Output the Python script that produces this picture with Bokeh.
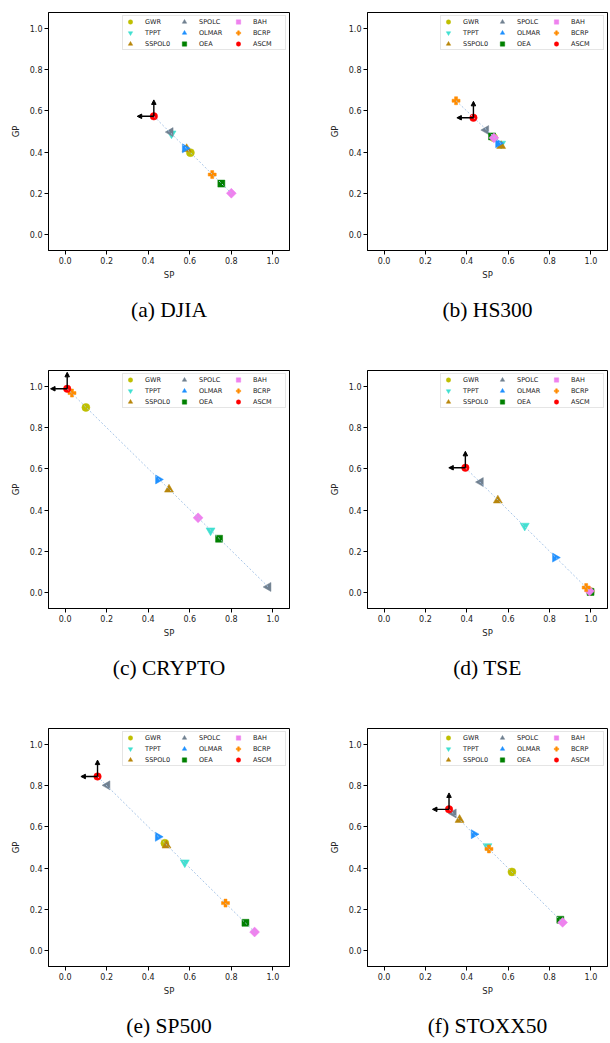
import math
from bokeh.plotting import figure
from bokeh.models import Range1d, Arrow, NormalHead, Title, FixedTicker
from bokeh.layouts import column, row
from bokeh.embed import file_html
from bokeh.resources import INLINE

# ---------------- data ----------------
METHODS = ["GWR", "TPPT", "SSPOL0", "SPOLC", "OLMAR", "OEA", "BAH", "BCRP", "ASCM"]

DJIA_SP = [0.603, 0.512, 0.585, 0.507, 0.577, 0.752, 0.800, 0.708, 0.427]
DJIA_GP = [0.397, 0.490, 0.415, 0.497, 0.418, 0.246, 0.199, 0.290, 0.574]

HS300_SP = [0.530, 0.566, 0.566, 0.493, 0.552, 0.522, 0.531, 0.348, 0.432]
HS300_GP = [0.470, 0.440, 0.430, 0.507, 0.443, 0.476, 0.469, 0.650, 0.567]

CRYPTO_SP = [0.100, 0.700, 0.500, 0.978, 0.448, 0.741, 0.640, 0.033, 0.010]
CRYPTO_GP = [0.900, 0.300, 0.500, 0.025, 0.549, 0.260, 0.362, 0.970, 0.991]

TSE_SP = [0.997, 0.680, 0.550, 0.467, 0.827, 0.998, 0.993, 0.977, 0.393]
TSE_GP = [0.003, 0.323, 0.447, 0.536, 0.168, 0.001, 0.005, 0.022, 0.606]

SP500_SP = [0.480, 0.576, 0.488, 0.203, 0.447, 0.868, 0.912, 0.772, 0.156]
SP500_GP = [0.521, 0.427, 0.510, 0.803, 0.552, 0.133, 0.088, 0.229, 0.846]

STOXX50_SP = [0.618, 0.500, 0.365, 0.336, 0.434, 0.852, 0.863, 0.507, 0.314]
STOXX50_GP = [0.381, 0.506, 0.635, 0.666, 0.565, 0.148, 0.135, 0.493, 0.686]

CAPTIONS = ["(a) DJIA", "(b) HS300", "(c) CRYPTO", "(d) TSE", "(e) SP500", "(f) STOXX50"]
TICKS = [0.0, 0.2, 0.4, 0.6, 0.8, 1.0]
TICK_LABELS = ["0.0", "0.2", "0.4", "0.6", "0.8", "1.0"]
X_LABEL = "SP"
Y_LABEL = "GP"
AXIS_LIMITS = (-0.08, 1.08)
ARROW_LEN = 0.08

# ---------------- styles ----------------
STYLE = {
    "GWR":    dict(marker="circle", color="#bfbf00", size=8, angle=0.0),
    "TPPT":   dict(marker="inverted_triangle", color="#40e0d0", size=9, angle=0.0),
    "SSPOL0": dict(marker="triangle", color="#b8860b", size=9, angle=0.0),
    "SPOLC":  dict(marker="triangle", color="#708090", size=9, angle=math.pi / 2),
    "OLMAR":  dict(marker="triangle", color="#1e90ff", size=9, angle=-math.pi / 2),
    "OEA":    dict(marker="square", color="#008000", size=7, angle=0.0),
    "BAH":    dict(marker="square", color="#ee82ee", size=7, angle=math.pi / 4),
    "BCRP":   dict(marker="plus", color="#ff8c00", size=8, angle=0.0),
    "ASCM":   dict(marker="circle", color="#ff0000", size=7.5, angle=0.0),
}
FONT = "DejaVu Sans"


def make_panel(sp, gp, caption, left, bottom_border):
    p = figure(
        frame_width=241 if left else 240, frame_height=238,
        min_border_left=48 if left else 62, min_border_right=16 if left else 3,
        min_border_top=12, min_border_bottom=bottom_border,
        x_range=Range1d(*AXIS_LIMITS), y_range=Range1d(*AXIS_LIMITS),
        output_backend="svg", toolbar_location=None,
        background_fill_color="white", border_fill_color="white",
    )
    p.grid.visible = False
    p.outline_line_color = "black"
    p.outline_line_alpha = 1.0
    p.outline_line_width = 1
    for ax in (p.xaxis[0], p.yaxis[0]):
        ax.ticker = FixedTicker(ticks=TICKS)
        ax.major_label_overrides = {t: l for t, l in zip(TICKS, TICK_LABELS)}
        ax.major_tick_out = 4
        ax.major_tick_in = 0
        ax.minor_tick_out = 0
        ax.minor_tick_in = 0
        ax.axis_line_color = "black"
        ax.major_tick_line_color = "black"
        ax.major_label_text_font = FONT
        ax.major_label_text_font_size = "8px"
        ax.major_label_text_color = "#222222"
        ax.axis_label_text_font = FONT
        ax.axis_label_text_font_size = "8.5px"
        ax.axis_label_text_font_style = "normal"
        ax.axis_label_text_color = "#222222"
        ax.major_label_standoff = 2
    p.xaxis.axis_label = X_LABEL
    p.yaxis.axis_label = Y_LABEL
    p.xaxis.axis_label_standoff = 3
    p.yaxis.axis_label_standoff = 6

    for i, m in enumerate(METHODS):
        st = STYLE[m]
        p.scatter([sp[i]], [gp[i]], marker=st["marker"], size=st["size"],
                  angle=st["angle"], fill_color=st["color"], line_color=st["color"],
                  line_width=0.5, legend_label=m)

    # dashed guide between the extreme points
    i_min = min(range(len(sp)), key=lambda k: sp[k])
    i_max = max(range(len(sp)), key=lambda k: sp[k])
    p.line([sp[i_min], sp[i_max]], [gp[i_min], gp[i_max]],
           line_color="#a9c6e8", line_dash="2 2", line_width=1)

    # arrows from ASCM
    ia = METHODS.index("ASCM")
    ax_, ay_ = sp[ia], gp[ia]
    for (xe, ye) in ((ax_, ay_ + ARROW_LEN), (ax_ - ARROW_LEN, ay_)):
        p.add_layout(Arrow(end=NormalHead(size=4.5, fill_color="black", line_color="black", line_width=1),
                           x_start=ax_, y_start=ay_, x_end=xe, y_end=ye,
                           line_color="black", line_width=1.4))

    lg = p.legend[0]
    lg.location = "top_right"
    lg.orientation = "vertical"
    lg.ncols = 3
    lg.label_text_font = FONT
    lg.label_text_font_size = "6.5px"
    lg.label_text_color = "#222222"
    lg.glyph_width = 14
    lg.glyph_height = 11
    lg.label_height = 11
    lg.label_width = 32
    lg.label_standoff = 8
    lg.spacing = 0
    lg.padding = 0
    lg.margin = 3
    lg.border_line_color = "#cccccc"
    lg.border_line_width = 1
    lg.background_fill_alpha = 0.85

    p.add_layout(Title(text=caption, align="center", text_font="Liberation Serif",
                       text_font_size="21.5px", text_font_style="normal",
                       text_color="black", standoff=27, offset=-5), "below")
    return p


DATA = [
    (DJIA_SP, DJIA_GP), (HS300_SP, HS300_GP),
    (CRYPTO_SP, CRYPTO_GP), (TSE_SP, TSE_GP),
    (SP500_SP, SP500_GP), (STOXX50_SP, STOXX50_GP),
]
panels = []
for k, (sp, gp) in enumerate(DATA):
    bottom = 108 if k < 4 else 77
    panels.append(make_panel(sp, gp, CAPTIONS[k], left=(k % 2 == 0), bottom_border=bottom))

layout = column(row(panels[0], panels[1]), row(panels[2], panels[3]), row(panels[4], panels[5]))

open("out.html", "w").write(file_html(layout, INLINE))
